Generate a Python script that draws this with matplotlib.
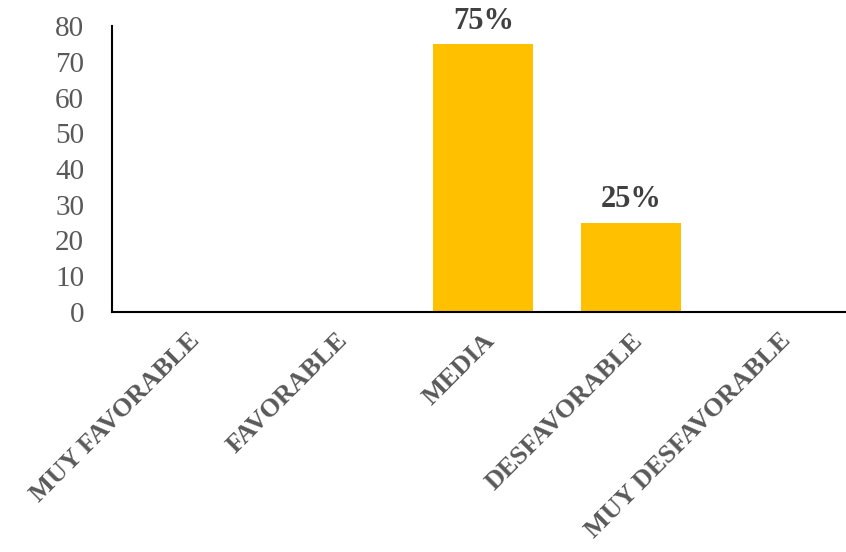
import matplotlib
matplotlib.use("Agg")
import matplotlib.pyplot as plt

categorias = ["MUY FAVORABLE", "FAVORABLE", "MEDIA", "DESFAVORABLE", "MUY DESFAVORABLE"]
valores = [0, 0, 75, 25, 0]
etiquetas = ["", "", "75%", "25%", ""]
y_ticks = [0, 10, 20, 30, 40, 50, 60, 70, 80]

plt.rcParams["font.family"] = ["Liberation Serif", "DejaVu Serif"]

fig = plt.figure(figsize=(8.46, 5.52), dpi=100)
ax = fig.add_axes([112 / 846, 1 - 312 / 552, (846 - 112) / 846, (312 - 26) / 552])

x = range(len(categorias))
barras = ax.bar(x, valores, width=0.676, color="#FFC000")

for b, txt in zip(barras, etiquetas):
    if txt:
        ax.text(b.get_x() + b.get_width() / 2, b.get_height() + 2.3, txt,
                ha="center", va="bottom", fontsize=22, fontweight="bold", color="#404040")

ax.set_xlim(-0.51, 4.45)
ax.set_ylim(0, 80)
ax.set_yticks(y_ticks)
ax.set_xticks(list(x))
ax.set_xticklabels(categorias, rotation=45, ha="right", rotation_mode="anchor",
                   fontsize=19, fontweight="bold", color="#595959")
ax.tick_params(axis="y", labelsize=21, labelcolor="#595959", length=0, pad=20)
ax.tick_params(axis="x", length=0, pad=12)

for s in ["top", "right"]:
    ax.spines[s].set_visible(False)
ax.spines["left"].set_linewidth(1.5)
ax.spines["bottom"].set_linewidth(1.5)

fig.savefig("out.png", dpi=100)
